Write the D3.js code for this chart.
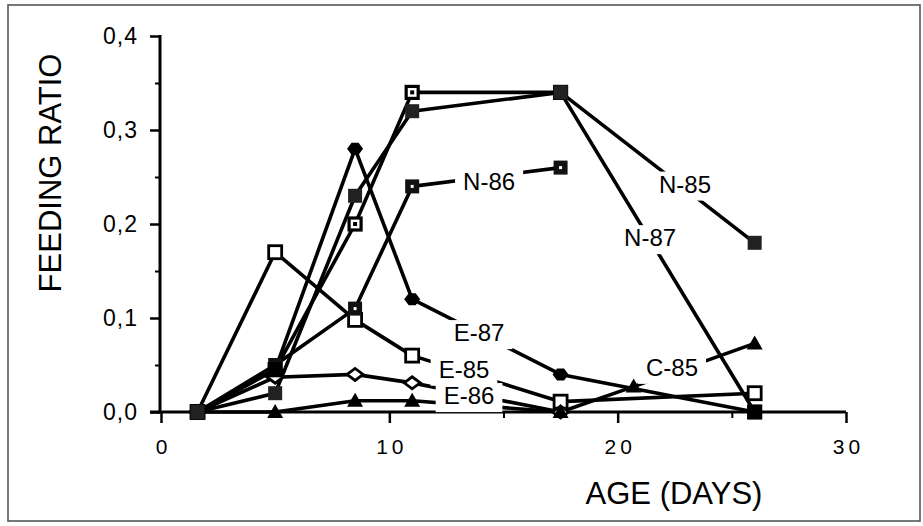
<!DOCTYPE html>
<html><head><meta charset="utf-8">
<script src="https://cdn.jsdelivr.net/npm/d3@7/dist/d3.min.js"></script>
<style>body{margin:0;background:#fff}svg{display:block}</style>
</head><body>
<svg id="chart" width="923" height="526"></svg>
<script>
// ---- data ----
const ages    = [1.6, 5, 8.5, 11, 17.5, 26];
const agesN86 = [1.6, 5, 8.5, 11, 17.5];
const agesE86 = [1.6, 5, 8.5, 11, 17.5];
const agesC85 = [1.6, 5, 8.5, 11, 17.5, 20.7, 26];

const n85 = [0, 0.02, 0.23, 0.32, 0.34, 0.18];
const n87 = [0, 0.045, 0.20, 0.34, 0.34, 0.0];
const n86 = [0, 0.05, 0.11, 0.24, 0.26];
const e87 = [0, 0.045, 0.28, 0.12, 0.04, 0.0];
const e85 = [0, 0.17, 0.098, 0.06, 0.011, 0.02];
const e86 = [0, 0.037, 0.04, 0.031, 0.0];
const c85 = [0, 0, 0.012, 0.012, 0, 0.027, 0.073];

const xTickValues = [0, 10, 20, 30];
const xMinorTicks = [5, 15, 25];
const yTickValues = [0, 0.1, 0.2, 0.3, 0.4];
const yTickLabels = ["0,0", "0,1", "0,2", "0,3", "0,4"];
const yMinorTicks = [0.05, 0.15, 0.25, 0.35];

const seriesNames = ["E-85", "E-86", "C-85", "E-87", "N-86", "N-87", "N-85"];
// label anchors in data units (age, ratio)
const labelAges   = [13.27, 13.49, 22.38, 13.93, 14.37, 21.42, 22.95];
const labelRatios = [0.046, 0.018, 0.048, 0.085, 0.246, 0.186, 0.243];

const xTitle = "AGE (DAYS)";
const yTitle = "FEEDING RATIO";

// ---- layout ----
const svg = d3.select("#chart");
const x = d3.scaleLinear().domain([0, 30]).range([161, 846]);
const y = d3.scaleLinear().domain([0, 0.4]).range([412, 36]);
const FONT = "'Liberation Sans', Arial, Helvetica, sans-serif";

// frame
svg.append("rect").attr("x", 8).attr("y", 5).attr("width", 912).attr("height", 516)
  .attr("fill", "none").attr("stroke", "#555").attr("stroke-width", 1.6);

// x axis
const gx = svg.append("g").attr("transform", `translate(0,${y(0)})`);
gx.call(d3.axisBottom(x).tickValues(xTickValues).tickSize(11).tickSizeOuter(0).tickFormat(d3.format("d")));
gx.attr("font-size", null).attr("font-family", null);
gx.select(".domain").remove();
gx.selectAll(".tick line").attr("stroke", "#000").attr("stroke-width", 2.5);
gx.selectAll(".tick text").style("font-family", FONT).style("font-size", "21px")
  .style("letter-spacing", "4px").attr("dx", "2px").attr("y", 27).attr("fill", "#000");
const gxm = svg.append("g").attr("transform", `translate(0,${y(0)})`);
gxm.call(d3.axisBottom(x).tickValues(xMinorTicks).tickSize(6).tickFormat(""));
gxm.select(".domain").remove();
gxm.selectAll(".tick line").attr("stroke", "#000").attr("stroke-width", 2);
svg.append("line").attr("x1", 150).attr("x2", x(30)).attr("y1", y(0)).attr("y2", y(0))
  .attr("stroke", "#000").attr("stroke-width", 3);

// y axis
const gy = svg.append("g").attr("transform", `translate(${x(0) - 1},0)`);
gy.call(d3.axisLeft(y).tickValues(yTickValues).tickSize(10).tickSizeOuter(0)
  .tickFormat((d, i) => yTickLabels[i]));
gy.attr("font-size", null).attr("font-family", null);
gy.select(".domain").remove();
gy.selectAll(".tick line").attr("stroke", "#000").attr("stroke-width", 2.5);
gy.selectAll(".tick text").style("font-family", FONT).style("font-size", "23px")
  .style("letter-spacing", "1px").attr("x", -22).attr("fill", "#000");
const gym = svg.append("g").attr("transform", `translate(${x(0) - 1},0)`);
gym.call(d3.axisLeft(y).tickValues(yMinorTicks).tickSize(5).tickFormat(""));
gym.select(".domain").remove();
gym.selectAll(".tick line").attr("stroke", "#000").attr("stroke-width", 2);
svg.append("line").attr("x1", x(0) - 1).attr("x2", x(0) - 1).attr("y1", y(0.4) - 1).attr("y2", y(0) + 1)
  .attr("stroke", "#000").attr("stroke-width", 3);

// axis titles
svg.append("text").attr("x", 674).attr("y", 504).attr("text-anchor", "middle")
  .attr("font-family", FONT).attr("font-size", 31).text(xTitle);
svg.append("text").attr("transform", "translate(61,173) rotate(-90)").attr("text-anchor", "middle")
  .attr("font-family", FONT).attr("font-size", 31).text(yTitle);

// series (drawing order: later ones on top)
const series = [
  {ages: ages,    vals: e85, mk: "openSquare"},
  {ages: agesE86, vals: e86, mk: "openDiamond"},
  {ages: agesC85, vals: c85, mk: "triangle"},
  {ages: agesN86, vals: n86, mk: "squareWhiteDot"},
  {ages: ages,    vals: n87, mk: "openSquareDot"},
  {ages: ages,    vals: e87, mk: "filledDiamond"},
  {ages: ages,    vals: n85, mk: "filledSquare"}
];
const line = d3.line().x(d => x(d[0])).y(d => y(d[1]));
const lineG = svg.append("g");
series.forEach(s => {
  const pts = s.ages.map((a, i) => [a, s.vals[i]]);
  lineG.append("path").attr("d", line(pts)).attr("fill", "none")
    .attr("stroke", "#000").attr("stroke-width", 3.6).attr("stroke-linejoin", "round");
});

// labels with white knock-out boxes
const labG = svg.append("g");
seriesNames.forEach((name, i) => {
  const g = labG.append("g");
  const t = g.append("text").attr("x", x(labelAges[i])).attr("y", y(labelRatios[i]) + 9)
    .attr("text-anchor", "middle").attr("font-family", FONT).attr("font-size", 24).text(name);
  const b = t.node().getBBox();
  g.insert("rect", "text").attr("x", b.x - 8).attr("y", b.y + 1).attr("width", b.width + 16)
    .attr("height", b.height + 2).attr("fill", "#fff");
});

// markers
const mkG = svg.append("g");
series.forEach(s => {
  s.ages.forEach((a, i) => {
    const g = mkG.append("g").attr("transform", `translate(${x(a)},${y(s.vals[i])})`);
    if (s.mk === "openSquare") {
      g.append("rect").attr("x", -6.5).attr("y", -6.5).attr("width", 13).attr("height", 13)
        .attr("fill", "#fff").attr("stroke", "#000").attr("stroke-width", 2.8);
    } else if (s.mk === "openDiamond") {
      g.append("path").attr("d", "M-8,0L0,-6L8,0L0,6Z").attr("fill", "#fff")
        .attr("stroke", "#000").attr("stroke-width", 2.8);
    } else if (s.mk === "triangle") {
      g.append("path").attr("d", "M0,-8L8,6L-8,6Z").attr("fill", "#000");
    } else if (s.mk === "filledDiamond") {
      g.append("path").attr("d", "M-8,0L-3.5,-6L3.5,-6L8,0L3.5,6L-3.5,6Z").attr("fill", "#000");
    } else if (s.mk === "squareWhiteDot") {
      g.append("rect").attr("x", -7).attr("y", -7).attr("width", 14).attr("height", 14).attr("fill", "#111");
      g.append("rect").attr("x", -1.5).attr("y", -1.5).attr("width", 3).attr("height", 3).attr("fill", "#fff");
    } else if (s.mk === "openSquareDot") {
      g.append("rect").attr("x", -6).attr("y", -6).attr("width", 12).attr("height", 12)
        .attr("fill", "#fff").attr("stroke", "#000").attr("stroke-width", 3.2);
      g.append("rect").attr("x", -2).attr("y", -2).attr("width", 4).attr("height", 4).attr("fill", "#000");
    } else {
      g.append("rect").attr("x", -7).attr("y", -7).attr("width", 14).attr("height", 14).attr("fill", "#222");
    }
  });
});
</script>
</body></html>
